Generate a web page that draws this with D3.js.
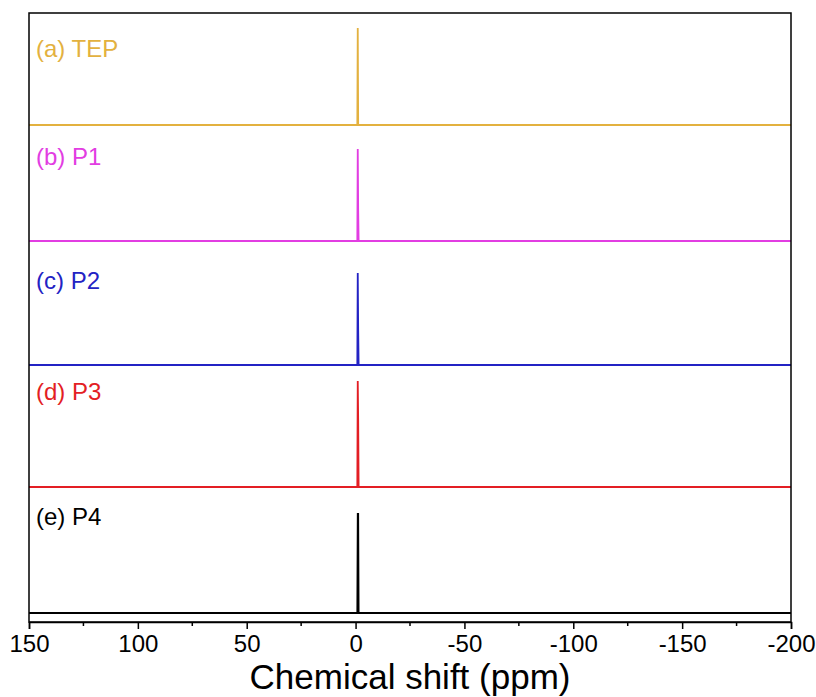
<!DOCTYPE html>
<html>
<head>
<meta charset="utf-8">
<script src="https://cdn.jsdelivr.net/npm/d3@7"></script>
<style>
  body { margin: 0; background: #fff; }
  text { font-family: "Liberation Sans", Arial, sans-serif; }
</style>
</head>
<body>
<div id="nmr"></div>
<script>
// Chemical shift points (ppm) shared by every spectrum
var shifts = [150, -0.4, -0.6, -0.8, -1.0, -1.2, -1.4, -1.6, -200];

// Intensities (arbitrary units) for each sample
var tepI = [0, 0, 0, 0, 0.97, 0, 0, 0, 0];
var p1I  = [0, 0, 0, 0, 0.92, 0.31, 0, 0, 0];
var p2I  = [0, 0, 0, 0, 0.92, 0.35, 0, 0, 0];
var p3I  = [0, 0, 0, 0, 1.06, 0.67, 0, 0, 0];
var p4I  = [0, 0, 0, 0, 0.99, 0.99, 0, 0, 0];

// Vertical offsets of the stacked spectra
var offsets = [4.88, 3.72, 2.48, 1.26, 0];
var labels = ["(a) TEP", "(b) P1", "(c) P2", "(d) P3", "(e) P4"];
var colors = ["#e3b13f", "#e23de2", "#2323c4", "#e31e24", "#000000"];

var xTicks = [150, 100, 50, 0, -50, -100, -150, -200];

var margin = { top: 13, right: 25, bottom: 75, left: 29 },
    width = 816 - margin.left - margin.right,
    height = 697 - margin.top - margin.bottom;

var x = d3.scaleLinear().domain([150, -200]).range([0, width]);
var y = d3.scaleLinear().domain([-0.09, 6.0]).range([height, 0]);

var svg = d3.select("#nmr")
    .append("svg")
    .attr("width", 816)
    .attr("height", 697)
    .append("g")
    .attr("transform", "translate(" + margin.left + "," + margin.top + ")");

var series = [tepI, p1I, p2I, p3I, p4I];

var line = d3.line()
    .x(function(d) { return x(d[0]); })
    .y(function(d) { return y(d[1]); });

series.forEach(function(vals, i) {
    var pts = shifts.map(function(s, j) { return [s, vals[j] + offsets[i]]; });
    svg.append("path")
        .datum(pts)
        .attr("fill", "none")
        .attr("stroke", colors[i])
        .attr("stroke-width", 1.8)
        .attr("d", line);

    // sample label, a fixed distance above the baseline
    var gap = [68, 76, 76, 87, 88][i];
    svg.append("text")
        .attr("x", 7)
        .attr("y", y(offsets[i]) - gap)
        .text(labels[i])
        .style("font-size", "24px")
        .style("fill", colors[i]);
});

// frame
svg.append("rect")
    .attr("width", width)
    .attr("height", height)
    .attr("fill", "none")
    .attr("stroke", "#000")
    .attr("stroke-width", 1.5);

// bottom axis: major ticks with labels, minor ticks between
var xAxis = d3.axisBottom(x)
    .tickValues(xTicks)
    .tickSize(7)
    .tickPadding(6)
    .tickFormat(function(d) { return String(d); });

var gx = svg.append("g")
    .attr("transform", "translate(0," + height + ")")
    .call(xAxis);
gx.select(".domain").attr("stroke-width", 1.5);
gx.selectAll(".tick line").attr("stroke-width", 1.5);
gx.selectAll(".tick text")
    .style("font-size", "24px")
    .style("font-family", "'Liberation Sans', Arial, sans-serif")
    .attr("fill", "#000");

var minor = d3.range(125, -200, -50);
svg.append("g")
    .attr("transform", "translate(0," + height + ")")
    .selectAll("line")
    .data(minor)
    .enter().append("line")
    .attr("x1", function(d) { return x(d); })
    .attr("x2", function(d) { return x(d); })
    .attr("y1", 0)
    .attr("y2", 4)
    .attr("stroke", "#000")
    .attr("stroke-width", 1.5);

// x axis title
svg.append("text")
    .attr("text-anchor", "middle")
    .attr("x", width / 2)
    .attr("y", height + 67)
    .text("Chemical shift (ppm)")
    .style("font-size", "35px")
    .style("fill", "#000");
</script>
</body>
</html>
